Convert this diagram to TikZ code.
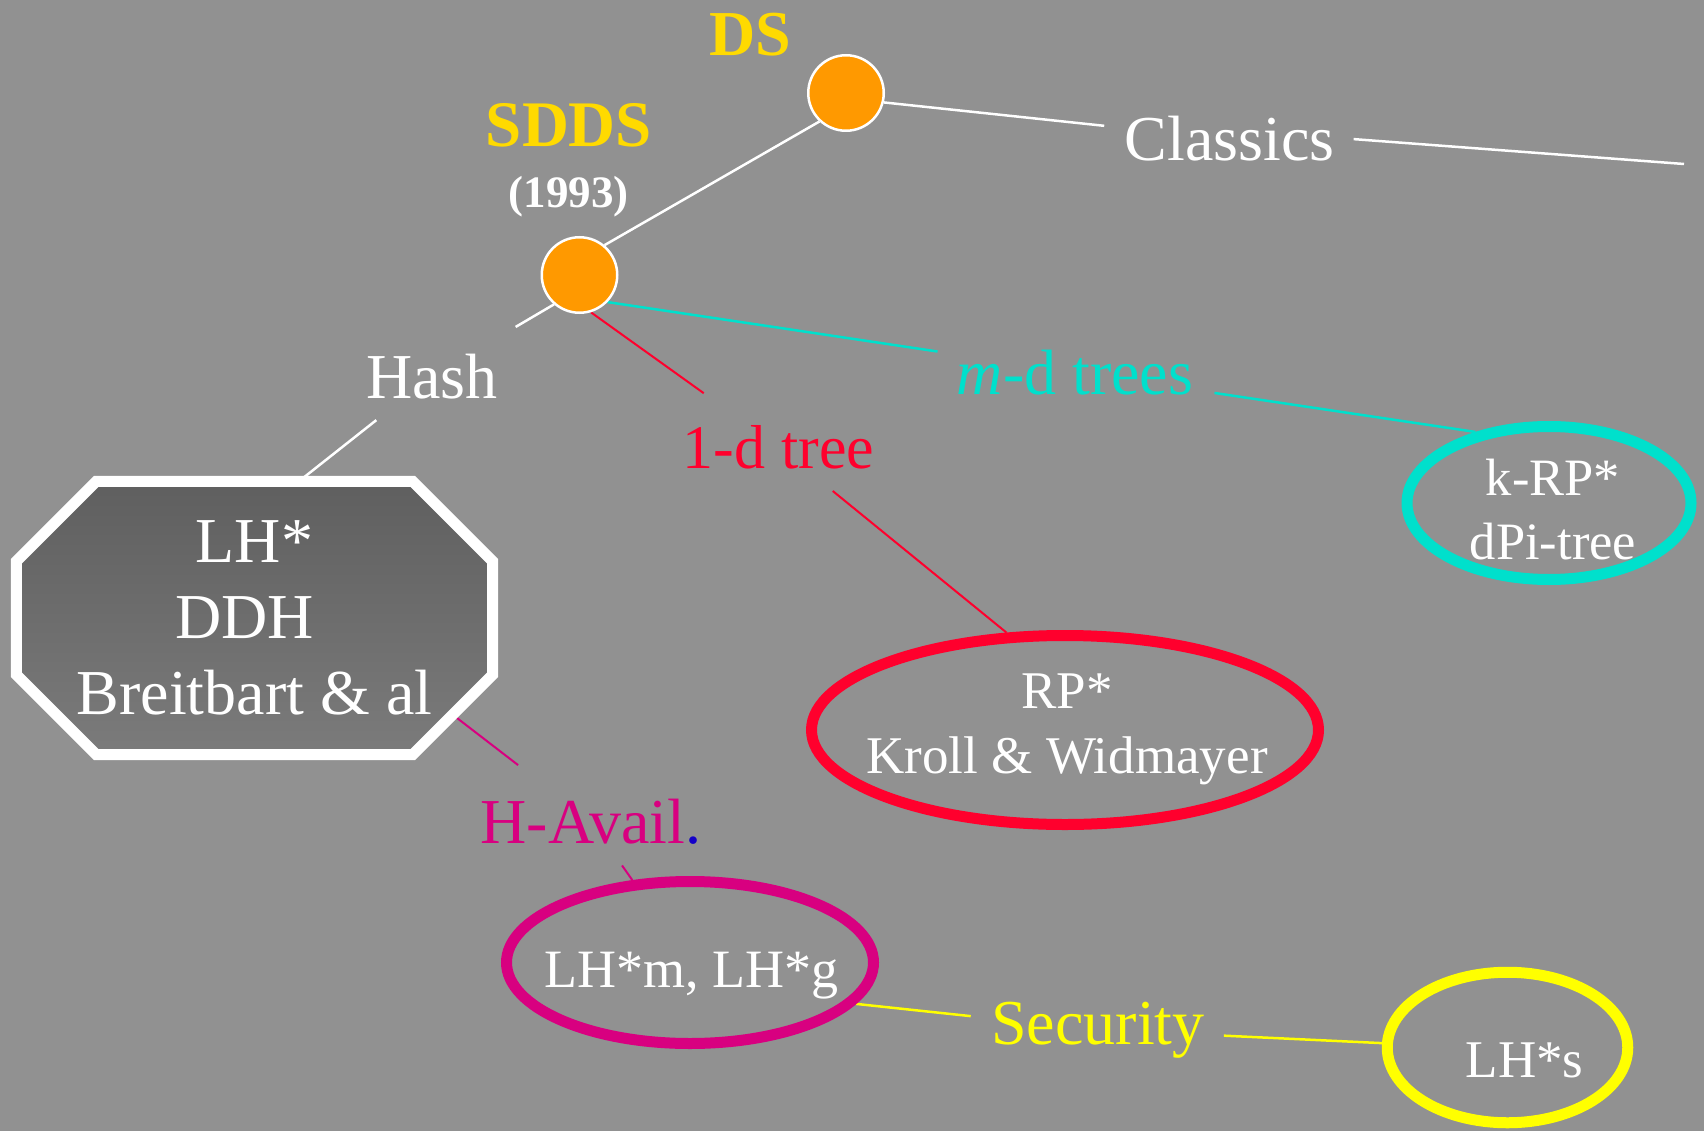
\documentclass[tikz,border=0pt]{standalone}
\usepackage{fontspec}
\setmainfont{Liberation Serif}
\usetikzlibrary{shapes.geometric}

\definecolor{bgc}{RGB}{145,145,145}
\definecolor{orangec}{RGB}{255,153,0}
\definecolor{goldc}{RGB}{255,218,0}
\definecolor{cyanc}{RGB}{0,224,204}
\definecolor{redc}{RGB}{255,0,45}
\definecolor{magc}{RGB}{216,0,128}
\definecolor{yelc}{RGB}{255,255,0}
\definecolor{dotblue}{RGB}{20,0,200}
\definecolor{octtop}{RGB}{95,95,95}
\definecolor{octbot}{RGB}{123,123,123}

\newcommand{\fsz}[2]{\fontsize{#1}{#2}\selectfont}

\pgfdeclarelayer{bottom}
\pgfdeclarelayer{links}
\pgfdeclarelayer{shapes}
\pgfsetlayers{bottom,links,shapes,main}

\begin{document}
\begin{tikzpicture}[x=1pt,y=-1pt,
  txt/.style={inner sep=0pt,text=white},
  title/.style={inner sep=0pt,text=goldc,anchor=base},
  hub/.style={circle,fill=orangec,draw=white,line width=2.5pt,minimum size=75.5pt,inner sep=0pt},
  ring/.style={ellipse,line width=11pt,inner sep=0pt},
  link/.style={line width=2.5pt},
  thinlink/.style={line width=2pt}]

% page and background
\useasboundingbox (0,0) rectangle (1704,1131);
\begin{pgfonlayer}{bottom}
  \fill[bgc] (0,0) rectangle (1704,1131);
\end{pgfonlayer}

% root nodes
\node[hub] (ds) at (846,93) {};
\node[hub] (sdds) at (579.5,275) {};
\node[title,font=\bfseries\fsz{64}{76}] (dslabel) at (750,56) {DS};
\node[title,font=\bfseries\fsz{65}{76}] (sddslabel) at (569,147) {SDDS};
\node[txt,anchor=base,font=\bfseries\fsz{45}{54}] (year) at (568.5,208) {(1993)};

% branch labels
\node[txt,anchor=base,font=\fsz{64}{76}] (hash) at (432,398) {Hash};
\node[txt,anchor=base,font=\fsz{64}{76}] (classics) at (1229.5,161) {Classics};
\node[txt,anchor=base,text=redc,font=\fsz{62}{74}] (oned) at (778.5,468) {1-d tree};
\node[txt,anchor=base,text=cyanc,font=\fsz{64}{76}] (mdt) at (1075,394) {\textit{m}-d trees};
\node[txt,anchor=base,font=\fsz{64}{76}] (havail) at (591,843) {\textcolor{magc}{H-Avail}\textcolor{dotblue}{.}};
\node[txt,anchor=base,text=yelc,font=\fsz{64}{76}] (security) at (1098,1044) {Security};
\coordinate (clsend) at (1684,164);

% hashing octagon
\node[txt,minimum width=476pt,minimum height=273pt,align=center,font=\fsz{64}{76}] (oct) at (254.5,618) {LH*\\\hbox{DDH\hskip20pt}\\Breitbart \& al};
\begin{pgfonlayer}{shapes}
  \path[draw=white,line width=11pt,top color=octtop,bottom color=octbot]
    ([xshift=80pt]oct.north west) -- ([xshift=-80pt]oct.north east)
    -- ([yshift=-80pt]oct.north east) -- ([yshift=80pt]oct.south east)
    -- ([xshift=-80pt]oct.south east) -- ([xshift=80pt]oct.south west)
    -- ([yshift=80pt]oct.south west) -- ([yshift=-80pt]oct.north west) -- cycle;
\end{pgfonlayer}

% leaf ellipses
\node[ring,draw=cyanc,minimum width=284pt,minimum height=153pt] (krp) at (1549,503) {};
\node[txt,align=center,font=\fsz{52.5}{64}] (krptext) at (1553,510) {k-RP*\\dPi-tree};
\node[ring,draw=redc,minimum width=507pt,minimum height=189pt] (rp) at (1065,730) {};
\node[txt,align=center,font=\fsz{53}{65}] (rptext) at (1067,729.5) {RP*\\Kroll \& Widmayer};
\node[ring,draw=magc,minimum width=367pt,minimum height=162pt] (lhm) at (690,962.5) {};
\node[txt,anchor=base,font=\fsz{54}{65}] (lhmtext) at (691,987) {LH*m, LH*g};
\node[ring,draw=yelc,minimum width=240.5pt,minimum height=150.5pt] (lhs) at (1507.5,1047.5) {};
\node[txt,anchor=base,font=\fsz{53}{65}] (lhstext) at (1524.5,1077) {LH*s};

% connectors
\begin{pgfonlayer}{links}
  \draw[link,white] (sdds.50) -- (ds.227);
  \draw[link,white,shorten >=126pt] (ds.-14) -- (classics.center);
  \draw[link,white] ([xshift=19pt]classics.east) -- (clsend);
  \draw[link,white,shorten >=97pt] (sdds.229) -- (hash.center);
  \draw[link,white,shorten <=71pt] (hash.center) -- (oct.72);
  \draw[thinlink,redc,shorten >=92pt] (sdds.-73) -- (oned.center);
  \draw[thinlink,redc,shorten <=70pt] (oned.center) -- (rp.121);
  \draw[link,cyanc,shorten >=139pt] (sdds.-44) -- (mdt.center);
  \draw[link,cyanc,shorten <=141pt] (mdt.center) -- (krp.136);
  \draw[thinlink,magc,shorten >=92pt] ([xshift=-40pt,yshift=40pt]oct.south east) -- (havail.center);
  \draw[thinlink,magc,shorten <=54pt] (havail.center) -- (lhm.125);
  \draw[link,yelc,shorten >=128pt] (lhm.-14) -- (security.center);
  \draw[link,yelc,shorten <=126pt] (security.center) -- (lhs.178);
\end{pgfonlayer}
\end{tikzpicture}
\end{document}
